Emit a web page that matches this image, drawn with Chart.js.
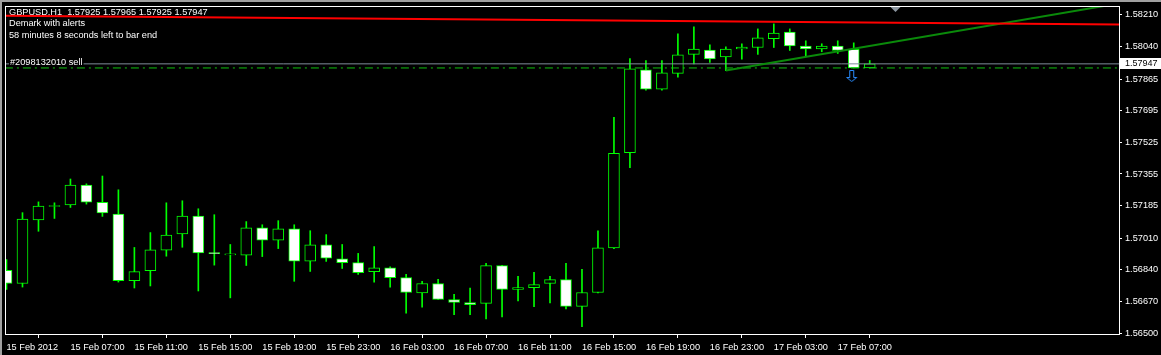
<!DOCTYPE html>
<html>
<head>
<meta charset="utf-8">
<script src="https://cdn.jsdelivr.net/npm/chart.js@4.4.1/dist/chart.umd.min.js"></script>
<style>
html, body { margin: 0; padding: 0; background: #000; }
#wrap { position: relative; width: 1161px; height: 355px; }
</style>
</head>
<body>
<div id="wrap"><canvas id="chart" width="1161" height="355"></canvas></div>
<script>
// GBPUSD H1 - bar 0 is 15 Feb 2012 03:00, last bar 17 Feb 09:00
const opens = [1.56837, 1.56766, 1.57108, 1.57180, 1.57188, 1.57295, 1.57202, 1.57140, 1.56782, 1.56835,
    1.56945, 1.57033, 1.57129, 1.56933, 1.56920, 1.56918, 1.57065, 1.56999, 1.57060, 1.56886,
    1.56974, 1.56899, 1.56878, 1.56830, 1.56851, 1.56798, 1.56715, 1.56766, 1.56680, 1.56664,
    1.56659, 1.56862, 1.56734, 1.56744, 1.56766, 1.56787, 1.56643, 1.56718, 1.56958, 1.57469,
    1.57915, 1.57811, 1.57896, 1.57998, 1.58021, 1.57984, 1.58027, 1.58035, 1.58083, 1.58118,
    1.58043, 1.58027, 1.58043, 1.58025, 1.57925];
const highs = [1.56895, 1.57147, 1.57205, 1.57200, 1.57328, 1.57302, 1.57344, 1.57270, 1.56960, 1.57040,
    1.57200, 1.57211, 1.57168, 1.57136, 1.56976, 1.57099, 1.57082, 1.57104, 1.57082, 1.57050,
    1.57029, 1.56976, 1.56928, 1.56965, 1.56856, 1.56815, 1.56778, 1.56789, 1.56708, 1.56741,
    1.56874, 1.56864, 1.56805, 1.56826, 1.56805, 1.56874, 1.56842, 1.57050, 1.57660, 1.57975,
    1.57964, 1.57964, 1.58109, 1.58146, 1.58050, 1.58039, 1.58055, 1.58135, 1.58162, 1.58135,
    1.58071, 1.58055, 1.58071, 1.58060, 1.57965];
const lows = [1.56734, 1.56747, 1.57047, 1.57116, 1.57175, 1.57193, 1.57127, 1.56774, 1.56742, 1.56753,
    1.56913, 1.56961, 1.56726, 1.56865, 1.56689, 1.56863, 1.56911, 1.56954, 1.56778, 1.56831,
    1.56885, 1.56847, 1.56815, 1.56773, 1.56746, 1.56607, 1.56639, 1.56680, 1.56598, 1.56598,
    1.56576, 1.56587, 1.56673, 1.56641, 1.56662, 1.56630, 1.56534, 1.56716, 1.56953, 1.57389,
    1.57806, 1.57806, 1.57875, 1.57947, 1.57955, 1.57911, 1.57972, 1.57998, 1.58035, 1.58019,
    1.57986, 1.58012, 1.58003, 1.57925, 1.57925];
const closes = [1.56766, 1.57113, 1.57182, 1.57183, 1.57295, 1.57204, 1.57145, 1.56782, 1.56830, 1.56947,
    1.57027, 1.57129, 1.56931, 1.56926, 1.56921, 1.57065, 1.56999, 1.57060, 1.56886, 1.56974,
    1.56902, 1.56878, 1.56824, 1.56851, 1.56798, 1.56718, 1.56766, 1.56680, 1.56664, 1.56653,
    1.56862, 1.56734, 1.56744, 1.56760, 1.56787, 1.56643, 1.56718, 1.56958, 1.57466, 1.57920,
    1.57811, 1.57899, 1.57995, 1.58027, 1.57973, 1.58027, 1.58037, 1.58087, 1.58112, 1.58043,
    1.58027, 1.58043, 1.58019, 1.57925, 1.57947];

const priceTicks = [1.56500, 1.56670, 1.56840, 1.57010, 1.57185, 1.57355, 1.57525, 1.57695, 1.57865, 1.58040, 1.58210];
const timeTickBars = [0, 4, 8, 12, 16, 20, 24, 28, 32, 36, 40, 44, 48, 52];
const timeTickLabels = ['15 Feb 2012', '15 Feb 07:00', '15 Feb 11:00', '15 Feb 15:00', '15 Feb 19:00', '15 Feb 23:00',
    '16 Feb 03:00', '16 Feb 07:00', '16 Feb 11:00', '16 Feb 15:00', '16 Feb 19:00', '16 Feb 23:00',
    '17 Feb 03:00', '17 Feb 07:00'];

const bidPrice = 1.57947;
const orderPrice = 1.57925;
const orderBar = 53;
const orderText = '#2098132010 sell';
const resistLine = [{ x: -0.03, y: 1.58206 }, { x: 69.6, y: 1.58158 }];
const demarkLine = [{ x: 45, y: 1.57911 }, { x: 69.6, y: 1.58272 }];
const shiftBar = 55.6;
const infoText = ['GBPUSD,H1  1.57925 1.57965 1.57925 1.57947', 'Demark with alerts', '58 minutes 8 seconds left to bar end'];

const FONT = '"Liberation Sans", Arial, sans-serif';
const LIME = '#00ff00';

var wicks = [];
var bodies = [];
var bodyColors = [];
for (var i = 0; i < opens.length; i++) {
    wicks.push({ x: i, y: [lows[i], highs[i]] });
    bodies.push({ x: i, y: [Math.min(opens[i], closes[i]), Math.max(opens[i], closes[i])] });
    bodyColors.push(closes[i] >= opens[i] ? '#000000' : '#ffffff');
}

// sell arrow drawn below the open price
function sellArrow() {
    var c = document.createElement('canvas');
    c.width = 17; c.height = 30;
    var g = c.getContext('2d');
    g.strokeStyle = '#2a8cff';
    g.lineWidth = 1;
    g.beginPath();
    g.moveTo(4.5, 17.5); g.lineTo(8.5, 17.5); g.lineTo(8.5, 24.5); g.lineTo(11.5, 24.5);
    g.lineTo(6.5, 28.5); g.lineTo(1.5, 24.5); g.lineTo(4.5, 24.5);
    g.closePath();
    g.stroke();
    return c;
}

const mt4Look = {
    id: 'mt4Look',
    beforeDraw(chart) {
        const ctx = chart.ctx;
        ctx.save();
        ctx.fillStyle = '#000';
        ctx.fillRect(0, 0, chart.width, chart.height);
        ctx.restore();
    },
    beforeDatasetsDraw(chart) {
        const ctx = chart.ctx;
        ctx.save();
        ctx.font = '9.2px ' + FONT;
        ctx.fillStyle = '#ffffff';
        ctx.textBaseline = 'alphabetic';
        ctx.fillText(infoText[0], 9, 15);
        ctx.fillText(infoText[1], 9, 26.3);
        ctx.fillText(infoText[2], 9, 37.7);
        ctx.restore();
    },
    afterDatasetsDraw(chart) {
        const ctx = chart.ctx;
        const y = chart.scales.y;
        const yo = y.getPixelForValue(orderPrice);
        ctx.save();
        ctx.font = '9.2px ' + FONT;
        const w = ctx.measureText(orderText).width;
        ctx.fillStyle = '#000';
        ctx.fillRect(9, yo - 11, w + 2, 8);
        ctx.fillStyle = '#ffffff';
        ctx.fillText(orderText, 10, yo - 3);
        ctx.restore();
    },
    afterDraw(chart) {
        const ctx = chart.ctx;
        const a = chart.chartArea;
        const y = chart.scales.y;
        const x = chart.scales.x;
        ctx.save();
        // window edge
        ctx.fillStyle = '#a0a0a0';
        ctx.fillRect(0, 0, chart.width, 2);
        ctx.fillRect(0, 0, 2, chart.height);
        // plot frame
        ctx.strokeStyle = '#ffffff';
        ctx.lineWidth = 1;
        ctx.strokeRect(a.left - 0.5, a.top + 0.5, a.right - a.left + 1, a.bottom - a.top);
        // chart shift marker
        const sx = Math.round(x.getPixelForValue(shiftBar)) + 0.5;
        ctx.fillStyle = '#8c96a0';
        ctx.beginPath();
        ctx.moveTo(sx - 5, a.top + 1);
        ctx.lineTo(sx + 5, a.top + 1);
        ctx.lineTo(sx, a.top + 6);
        ctx.closePath();
        ctx.fill();
        // bid price box
        const yb = y.getPixelForValue(bidPrice);
        ctx.fillStyle = '#ffffff';
        ctx.fillRect(a.right + 1, Math.round(yb) - 6, chart.width - a.right - 1, 11);
        ctx.fillStyle = '#000000';
        ctx.font = '9px ' + FONT;
        ctx.textBaseline = 'middle';
        ctx.fillText(bidPrice.toFixed(5), a.right + 6, yb);
        ctx.restore();
    }
};

const ctx = document.getElementById('chart');

new Chart(ctx, {
    type: 'bar',
    data: {
        datasets: [
            {
                type: 'line',
                label: 'resist',
                data: resistLine,
                borderColor: '#ff0000',
                borderWidth: 2,
                pointRadius: 0,
                order: 0
            },
            {
                type: 'line',
                label: 'demark',
                data: demarkLine,
                borderColor: '#0a8a0a',
                borderWidth: 2,
                pointRadius: 0,
                order: 0
            },
            {
                type: 'line',
                label: 'bid',
                data: [{ x: -0.1, y: bidPrice }, { x: 70, y: bidPrice }],
                borderColor: '#7f8c9a',
                borderWidth: 1,
                pointRadius: 0,
                order: 0
            },
            {
                type: 'line',
                label: 'order',
                data: [{ x: -0.1, y: orderPrice }, { x: 70, y: orderPrice }],
                borderColor: '#10c010',
                borderWidth: 1,
                borderDash: [8, 4, 2, 4],
                pointRadius: 0,
                order: 0
            },
            {
                type: 'line',
                label: 'arrow',
                data: [{ x: orderBar, y: orderPrice }],
                showLine: false,
                pointStyle: sellArrow(),
                pointRadius: 5,
                order: 0
            },
            {
                label: 'body',
                data: bodies,
                backgroundColor: bodyColors,
                borderColor: LIME,
                borderWidth: 1,
                borderSkipped: false,
                barThickness: 11,
                minBarLength: 1,
                grouped: false,
                order: 1
            },
            {
                label: 'wick',
                data: wicks,
                backgroundColor: LIME,
                borderWidth: 0,
                barThickness: 1,
                grouped: false,
                order: 2
            }
        ]
    },
    options: {
        responsive: false,
        animation: false,
        events: [],
        layout: { padding: { left: 5, top: 4, right: 0, bottom: 0 } },
        plugins: {
            legend: { display: false },
            tooltip: { enabled: false }
        },
        scales: {
            x: {
                type: 'linear',
                position: 'bottom',
                min: -0.03125,
                max: 69.59375,
                offset: false,
                afterBuildTicks: function (scale) {
                    scale.ticks = timeTickBars.map(v => ({ value: v }));
                },
                afterFit: function (scale) {
                    scale.height = 21;
                    scale.paddingLeft = 0;
                    scale.paddingRight = 0;
                },
                ticks: {
                    autoSkip: false,
                    maxRotation: 0,
                    align: 'start',
                    padding: 4,
                    color: '#ffffff',
                    font: { family: FONT, size: 9.2 },
                    callback: function (v, i) { return timeTickLabels[i]; }
                },
                grid: {
                    drawOnChartArea: false,
                    drawTicks: true,
                    tickLength: 4,
                    color: '#ffffff'
                },
                border: { display: false }
            },
            y: {
                type: 'linear',
                position: 'right',
                min: 1.564947,
                max: 1.582581,
                afterBuildTicks: function (scale) {
                    scale.ticks = priceTicks.map(v => ({ value: v }));
                },
                afterFit: function (scale) {
                    scale.width = 42;
                    scale.paddingTop = 0;
                    scale.paddingBottom = 0;
                },
                ticks: {
                    autoSkip: false,
                    padding: 3,
                    color: '#ffffff',
                    font: { family: FONT, size: 9.2 },
                    callback: function (v) { return v.toFixed(5); }
                },
                grid: {
                    drawOnChartArea: false,
                    drawTicks: true,
                    tickLength: 3,
                    color: '#ffffff'
                },
                border: { display: false }
            }
        }
    },
    plugins: [mt4Look]
});
</script>
</body>
</html>
